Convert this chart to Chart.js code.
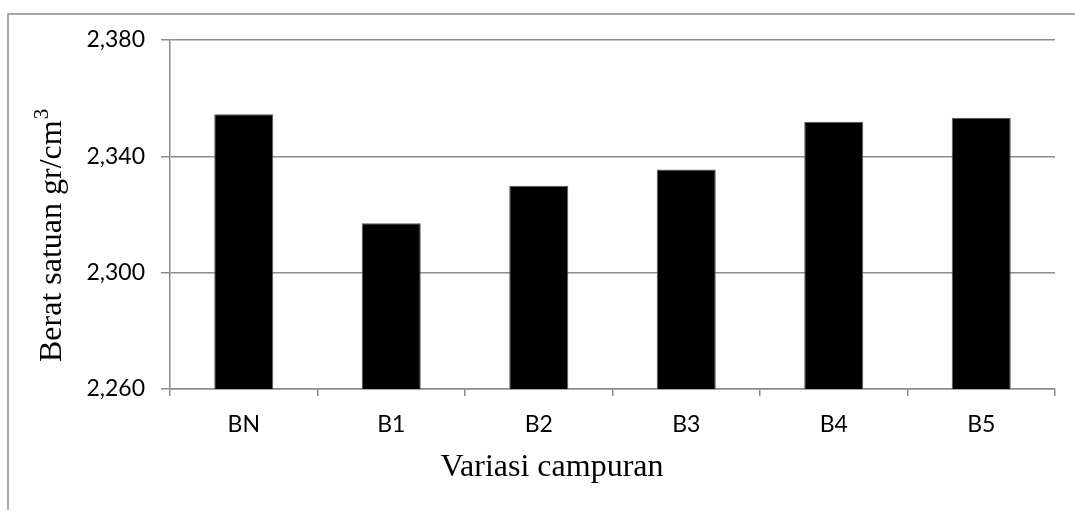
<!DOCTYPE html>
<html>
<head>
<meta charset="utf-8">
<script src="https://cdn.jsdelivr.net/npm/chart.js@4"></script>
<style>
  html, body { margin: 0; padding: 0; background: #fff; }
</style>
</head>
<body>
<canvas id="chart" width="1075" height="510"></canvas>
<script>
// data
const categories = ['BN', 'B1', 'B2', 'B3', 'B4', 'B5'];
const beratSatuan = [2.3545, 2.3170, 2.3299, 2.3355, 2.3519, 2.3533];
const yTicks = [2.260, 2.300, 2.340, 2.380];
const xTitle = 'Variasi campuran';
const yTitle = 'Berat satuan gr/cm';
const yTitleSup = '3';

const axisGray = '#8c8c8c';

// outer frame of the chart object (runs off the right and bottom edge)
const framePlugin = {
    id: 'frame',
    beforeDraw(chart) {
        const ctx = chart.ctx;
        ctx.save();
        ctx.fillStyle = '#fff';
        ctx.fillRect(0, 0, chart.width, chart.height);
        ctx.strokeStyle = axisGray;
        ctx.lineWidth = 1.5;
        ctx.strokeRect(8, 14, chart.width + 20, chart.height + 20);
        ctx.restore();
    }
};

// axis titles sit off-centre in the original, and the y one has a superscript
const titlesPlugin = {
    id: 'titles',
    afterDraw(chart) {
        const ctx = chart.ctx;
        ctx.save();
        ctx.fillStyle = '#000';
        ctx.font = '32px "Liberation Serif"';
        ctx.textBaseline = 'alphabetic';
        ctx.textAlign = 'center';
        ctx.fillText(xTitle, 552, 476);

        ctx.translate(61, 362);
        ctx.rotate(-Math.PI / 2);
        ctx.textAlign = 'left';
        ctx.fillText(yTitle, 0, 0);
        const w = ctx.measureText(yTitle).width;
        ctx.font = '21px "Liberation Serif"';
        ctx.fillText(yTitleSup, w + 1, -13);
        ctx.restore();
    }
};

new Chart(document.getElementById('chart'), {
    type: 'bar',
    data: {
        labels: categories,
        datasets: [{
            data: beratSatuan,
            backgroundColor: '#000',
            borderColor: '#555',
            borderWidth: 1,
            barPercentage: 0.4,
            categoryPercentage: 1
        }]
    },
    options: {
        responsive: false,
        animation: false,
        layout: { padding: { top: 40, right: 20, left: 0, bottom: 0 } },
        plugins: {
            legend: { display: false },
            tooltip: { enabled: false }
        },
        scales: {
            x: {
                afterFit(scale) { scale.height = 121; },
                grid: {
                    drawOnChartArea: false,
                    color: axisGray,
                    lineWidth: 1.5,
                    tickLength: 7
                },
                border: { color: axisGray, width: 1.5 },
                ticks: {
                    color: '#000',
                    padding: 15,
                    font: { family: 'Lato', size: 23 }
                }
            },
            y: {
                min: yTicks[0],
                max: yTicks[yTicks.length - 1],
                afterFit(scale) { scale.width = 170; },
                afterBuildTicks(scale) {
                    scale.ticks = yTicks.map(v => ({ value: v }));
                },
                grid: {
                    color: axisGray,
                    lineWidth: 1.5,
                    tickLength: 9
                },
                border: { color: axisGray, width: 1.5 },
                ticks: {
                    color: '#000',
                    padding: 16,
                    font: { family: 'Lato', size: 23 },
                    callback: v => v.toFixed(3).replace('.', ',')
                }
            }
        }
    },
    plugins: [framePlugin, titlesPlugin]
});
</script>
</body>
</html>
